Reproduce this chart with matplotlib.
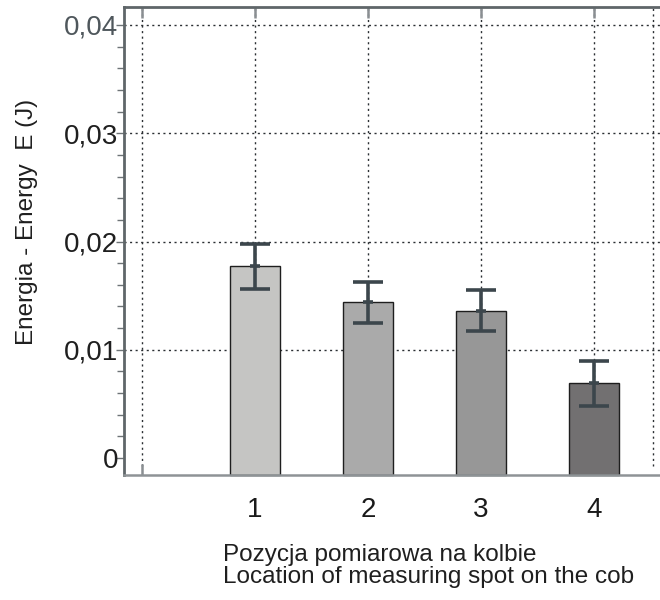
import matplotlib
matplotlib.use("Agg")
import matplotlib.pyplot as plt
from matplotlib.ticker import MultipleLocator, FixedLocator

plt.rcParams['font.family'] = ['Liberation Sans', 'DejaVu Sans']

# Measuring positions on the cob and mean energy with spread
positions = [1, 2, 3, 4]
position_labels = ["1", "2", "3", "4"]
energy = [0.0177, 0.0144, 0.0136, 0.0069]
energy_err = [0.0021, 0.0019, 0.0019, 0.0021]
bar_colors = ["#c5c5c3", "#aaaaaa", "#979797", "#727071"]

y_ticks = [0.0, 0.01, 0.02, 0.03, 0.04]
y_tick_labels = ["0", "0,01", "0,02", "0,03", "0,04"]

fig = plt.figure(figsize=(6.6, 6.0), dpi=100)
ax = fig.add_axes([0.1879, 0.2083, 0.8121, 0.780])

y_lo, y_hi = -0.00157, 0.04166
ax.set_xlim(-0.159, 4.584)
ax.set_ylim(y_lo, y_hi)

# grid behind the bars
ax.set_axisbelow(True)
grid_kw = dict(color="#2b2f33", lw=1.0, linestyle=(0, (1.5, 2.5)), zorder=0)
for yv in y_ticks[1:]:
    ax.axhline(yv, **grid_kw)
for xv in [0, 1, 2, 3, 4, 4.522]:
    ax.axvline(xv, ymin=0.02, **grid_kw)

# bars rise from the lower frame edge
ax.bar(positions, [v - y_lo for v in energy], bottom=y_lo, width=0.44,
       color=bar_colors, edgecolor="#1e1e1e", linewidth=1.0, zorder=2,
       clip_on=False)

err_color = "#3c464c"
ax.errorbar(positions, energy, yerr=energy_err, fmt="none", ecolor=err_color,
            elinewidth=2.6, capsize=11, capthick=2.6, zorder=3)
ax.scatter(positions, energy, marker="_", s=50, color=err_color,
           linewidths=2.6, zorder=4)

# axis ticks
ax.xaxis.set_major_locator(FixedLocator([0, 1, 2, 3, 4]))
ax.set_xticklabels([""] + position_labels)
ax.tick_params(axis="x", which="major", direction="in", length=8, width=1.8,
               color="#8a8f92", top=True, bottom=True, pad=16,
               labelsize=20, labelcolor="#1a1a1a")

ax.set_yticks(y_ticks)
ax.set_yticklabels(y_tick_labels)
ax.yaxis.set_minor_locator(MultipleLocator(0.002))
ax.tick_params(axis="y", which="major", direction="out", length=6, width=1.0,
               color="#6d7376", labelsize=20, labelcolor="#1f1f1f", pad=-2)
ax.tick_params(axis="y", which="minor", direction="out", length=5, width=1.0,
               color="#6d7376")
ax.get_yticklabels()[-1].set_color("#4f575c")

for side in ["left", "top"]:
    ax.spines[side].set_color("#5f6669")
    ax.spines[side].set_linewidth(2.0)
ax.spines["bottom"].set_color("#8e9396")
ax.spines["bottom"].set_linewidth(1.8)
ax.spines["right"].set_visible(False)

ax.set_ylabel("Energia - Energy  E (J)", fontsize=17.5, color="#1f1f1f")
ax.yaxis.set_label_coords(-0.161, 0.541)

fig.text(223 / 660, 1 - 566 / 600,
         "Pozycja pomiarowa na kolbie\nLocation of measuring spot on the cob",
         ha="left", va="center", fontsize=17.5, color="#1f1f1f",
         linespacing=0.95)

fig.savefig("out.png", dpi=100)
